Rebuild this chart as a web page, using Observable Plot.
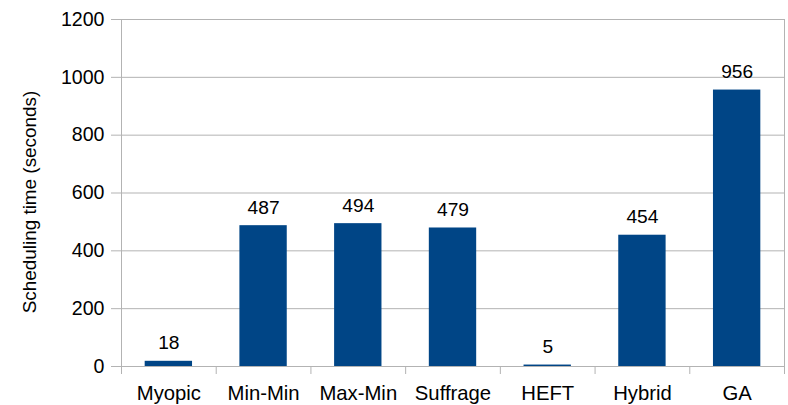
<!DOCTYPE html>
<html>
<head>
<meta charset="utf-8">
<script src="https://cdn.jsdelivr.net/npm/d3@7"></script>
<script src="https://cdn.jsdelivr.net/npm/@observablehq/plot@0.6"></script>
<style>
  html, body { margin: 0; padding: 0; background: #fff; }
</style>
</head>
<body>
<div id="chart"></div>
<script>
// Scheduling time per heuristic
const heuristics = ["Myopic", "Min-Min", "Max-Min", "Suffrage", "HEFT", "Hybrid", "GA"];
const seconds = [18, 487, 494, 479, 5, 454, 956];
const yTicks = [0, 200, 400, 600, 800, 1000, 1200];
const yLabel = "Scheduling time (seconds)";

const rows = heuristics.map((h, i) => ({heuristic: h, seconds: seconds[i]}));

const width = 788, height = 405;
const marginLeft = 121, marginRight = 4, marginTop = 19, marginBottom = 39;
const step = (width - marginLeft - marginRight) / heuristics.length;
const grid = "#b3b3b3";

const chart = Plot.plot({
  width, height, marginLeft, marginRight, marginTop, marginBottom,
  style: {fontFamily: "'Liberation Sans', Arial, sans-serif", fontSize: "19px", color: "#000", background: "#fff"},
  x: {domain: heuristics, paddingInner: 0.5, paddingOuter: 0.25, round: false, label: null},
  y: {domain: [0, 1200], label: null},
  marks: [
    Plot.gridY(yTicks, {stroke: grid, strokeOpacity: 1}),
    Plot.frame({stroke: grid}),
    // separators between category bands, extending below the baseline
    Plot.ruleX(heuristics, {x: d => d, y1: 0, y2: 0, dx: -step / 2, insetBottom: -8, stroke: grid}),
    Plot.ruleX(heuristics.slice(-1), {x: d => d, y1: 0, y2: 0, dx: step / 2, insetBottom: -8, stroke: grid}),
    Plot.axisY(yTicks, {tickSize: 10, tickPadding: 7, tickFormat: d => String(d), stroke: grid, fill: "#000", fontSize: 19.6, label: null}),
    Plot.axisX({tickSize: 0, tickPadding: 19, fill: "#000", fontSize: 20.3, label: null}),
    Plot.barY(rows, {x: "heuristic", y: "seconds", fill: "#004586"}),
    Plot.text(rows, {x: "heuristic", y: "seconds", text: d => String(d.seconds), lineAnchor: "bottom", dy: -12, fill: "#000", fontSize: 19.2}),
    Plot.text([yLabel], {frameAnchor: "left", textAnchor: "middle", text: d => d, rotate: -90, dx: -92, dy: 9, fill: "#000", fontSize: 18.9})
  ]
});

document.getElementById("chart").appendChild(chart);
</script>
</body>
</html>
